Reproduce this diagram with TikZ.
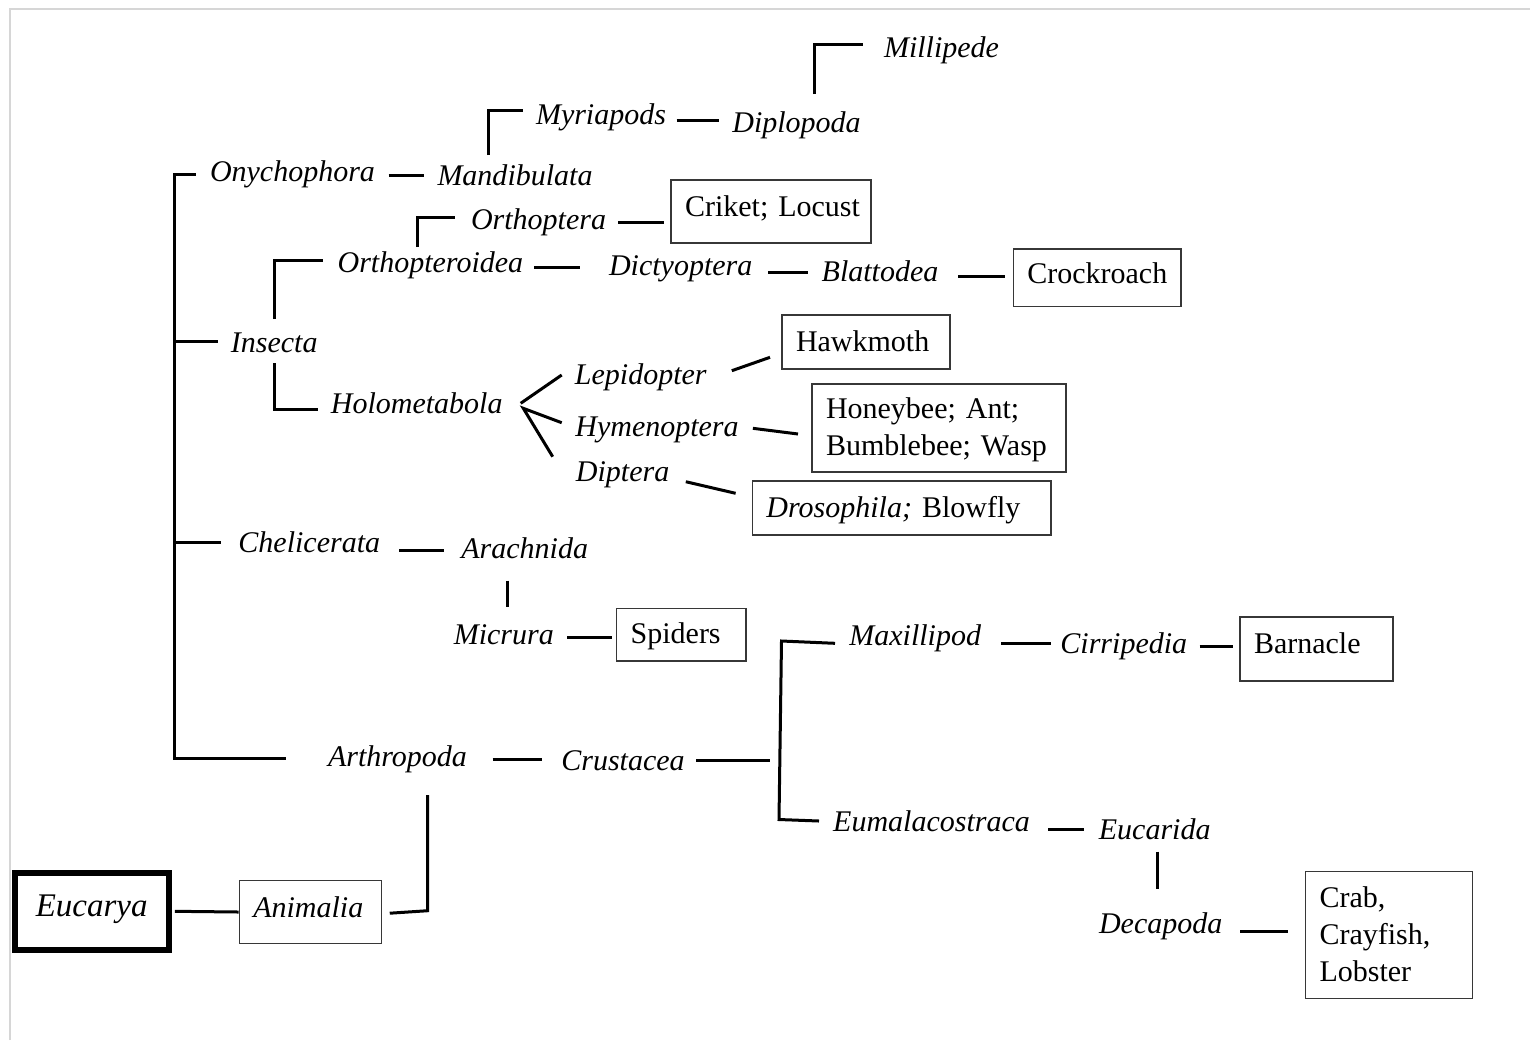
\documentclass[tikz,border=0pt]{standalone}
\usepackage{fontspec}
\setmainfont{Liberation Serif}
\definecolor{boxc}{RGB}{55,55,55}
\definecolor{framec}{RGB}{214,214,214}
\frenchspacing
\begin{document}
\begin{tikzpicture}[x=0.5pt,y=-0.5pt,
  lbl/.style={font=\fontsize{15}{18.5}\selectfont\itshape, inner sep=0pt, text height=13pt, text depth=3pt},
  box/.style={draw=boxc, line width=0.65pt, inner xsep=7pt, inner ysep=0pt, align=left,
              font=\fontsize{15}{18.5}\selectfont\frenchspacing},
  onebox/.style={box, text height=13pt},
  link/.style={line width=1.5pt, line join=miter}]
\useasboundingbox (0,0) rectangle (1530,1040);
\fill[white] (0,0) rectangle (1530,1040);
% frame
\draw[framec, line width=1pt] (10,1040) -- (10,9.3) -- (1530,9.3);

% labels
\node[lbl] (millipede) at (941.5,47.5) {Millipede};
\node[lbl] (diplopoda) at (796.5,122) {Diplopoda};
\node[lbl] (myriapods) at (601,114) {Myriapods};
\node[lbl] (mandibulata) at (515,175) {Mandibulata};
\node[lbl] (onychophora) at (292.5,171.5) {Onychophora};
\node[lbl] (orthoptera) at (538.5,219) {Orthoptera};
\node[lbl] (orthopteroidea) at (430.4,262.5) {Orthopteroidea};
\node[lbl] (dictyoptera) at (680.7,265) {Dictyoptera};
\node[lbl] (blattodea) at (880,271) {Blattodea};
\node[lbl] (insecta) at (274.2,342) {Insecta};
\node[lbl] (holometabola) at (416.7,403.3) {Holometabola};
\node[lbl] (lepidopter) at (640.8,374.5) {Lepidopter};
\node[lbl] (hymenoptera) at (657,426.5) {Hymenoptera};
\node[lbl] (diptera) at (622.6,471.7) {Diptera};
\node[lbl] (chelicerata) at (309.3,542.7) {Chelicerata};
\node[lbl] (arachnida) at (524.7,548.3) {Arachnida};
\node[lbl] (micrura) at (503.8,634) {Micrura};
\node[lbl] (arthropoda) at (397.5,756.7) {Arthropoda};
\node[lbl] (crustacea) at (623,760) {Crustacea};
\node[lbl] (maxillipod) at (915.2,635.5) {Maxillipod};
\node[lbl] (cirripedia) at (1123.8,643.3) {Cirripedia};
\node[lbl] (eumalacostraca) at (931.5,821.7) {Eumalacostraca};
\node[lbl] (eucarida) at (1154.7,829.3) {Eucarida};
\node[lbl] (decapoda) at (1160.7,923.3) {Decapoda};

% boxes
\node[onebox, text width=86pt, minimum height=31.5pt, text depth=8.5pt] (criket) at (771,211.5) {\mbox{Criket; Locust}};
\node[onebox, text width=69.85pt, minimum height=28.85pt, text depth=7.6pt] (crockroach) at (1097.2,277.9) {\mbox{Crockroach}};
\node[onebox, text width=70pt, minimum height=27pt, text depth=3.5pt] (hawkmoth) at (866,342) {\mbox{Hawkmoth}};
\node[box, text width=113pt, minimum height=44pt, text height=10pt, text depth=19.5pt] (honeybee) at (939,428) {Honeybee; Ant;\\Bumblebee; Wasp};
\node[onebox, text width=135.25pt, minimum height=27pt, text depth=3.5pt] (drosophila) at (901.7,508) {\mbox{\textit{Drosophila;} Blowfly}};
\node[onebox, text width=50.65pt, minimum height=26.35pt, text depth=4.4pt] (spiders) at (681.3,634.7) {\mbox{Spiders}};
\node[onebox, text width=62.5pt, minimum height=32pt, text depth=8.7pt] (barnacle) at (1316.5,649) {\mbox{Barnacle}};
\node[box, text width=69.4pt, minimum height=63.3pt, text height=10pt, text depth=37.5pt] (crab) at (1388.9,935) {Crab,\\Crayfish,\\Lobster};
\node[onebox, text width=57.2pt, minimum height=31.3pt, text depth=8pt, font=\fontsize{15}{18.5}\selectfont\itshape] (animalia) at (310.5,912) {\mbox{Animalia}};
\node[draw=black, line width=3pt, inner sep=0pt, minimum width=77pt, minimum height=38.35pt,
      font=\fontsize{16.5}{20}\selectfont\itshape, text height=15pt, text depth=9.6pt] (eucarya) at (91.7,911.3) {Eucarya};

% connectors
\draw[link] (814.5,94) coordinate (mpA) -- (814.5,44.5) -- (862.5,44.5) coordinate (mpB);
\draw[link] (488.5,155) coordinate (myA) -- (488.5,110) -- (522.7,110) coordinate (myB);
\draw[link] (676.5,120.5) coordinate (dpA) -- (719.2,120.5) coordinate (dpB);
\draw[link] (388.6,175) coordinate (onA) -- (424,175) coordinate (onB);
\draw[link] (195.8,174) coordinate (mainA) -- (174,174) -- (174,758) -- (286,758) coordinate (mainB);
\draw[link] (174,341.7) -- (218,341.7) coordinate (inB);
\draw[link] (174,542.3) -- (221,542.3) coordinate (chB);
\draw[link] (417,247) coordinate (orA) -- (417,217) -- (455.2,217) coordinate (orB);
\draw[link] (618,222) coordinate (ckA) -- (663.7,222) coordinate (ckB);
\draw[link] (274.5,319) coordinate (iuA) -- (274.5,260) -- (323,260) coordinate (iuB);
\draw[link] (274.3,363) coordinate (ilA) -- (274.3,409.5) -- (318.3,409.5) coordinate (ilB);
\draw[link] (534,267.7) coordinate (odA) -- (580,267.7) coordinate (odB);
\draw[link] (768,272) coordinate (dbA) -- (808,272) coordinate (dbB);
\draw[link] (958.3,276.7) coordinate (bcA) -- (1005,276.7) coordinate (bcB);
\draw[link] (520.7,403.3) coordinate (hfA) -- (561.7,375) coordinate (hfB);
\draw[link] (561.7,422.7) coordinate (hfC) -- (523.3,408.3) coordinate (hfD) -- (552.7,456.7) coordinate (hfE);
\draw[link] (731.8,370.7) coordinate (lhA) -- (770,357.3) coordinate (lhB);
\draw[link] (752.9,428.3) coordinate (hhA) -- (798,434) coordinate (hhB);
\draw[link] (685.8,481.7) coordinate (ddA) -- (735.6,493.3) coordinate (ddB);
\draw[link] (399.3,550.7) coordinate (caA) -- (444.3,550.7) coordinate (caB);
\draw[link] (507.7,580.7) coordinate (amA) -- (507.7,606.7) coordinate (amB);
\draw[link] (567.3,637.3) coordinate (msA) -- (611.7,637.3) coordinate (msB);
\draw[link] (492.7,759) coordinate (acA) -- (541.7,759) coordinate (acB);
\draw[link] (696,760) coordinate (crA) -- (770,760) coordinate (crB);
\draw[link] (835,643.3) coordinate (cbA) -- (781.5,641) -- (779,819.5) -- (819,821) coordinate (cbB);
\draw[link] (1001,643.3) coordinate (mcA) -- (1051,643.3) coordinate (mcB);
\draw[link] (1199.7,646.7) coordinate (cnA) -- (1233,646.7) coordinate (cnB);
\draw[link] (1048,829.3) coordinate (eeA) -- (1083.7,829.3) coordinate (eeB);
\draw[link] (1157.3,851.7) coordinate (edA) -- (1157.3,889.3) coordinate (edB);
\draw[link] (1240,931.7) coordinate (dcA) -- (1288,931.7) coordinate (dcB);
\draw[link] ([xshift=1.6pt]eucarya.east) -- (animalia.west);
\draw[link] (animalia.east) ++(3.7pt,-0.6pt) coordinate (aaA) -- (427.7,910.7) -- (427.7,795) coordinate (aaB);
\end{tikzpicture}
\end{document}
